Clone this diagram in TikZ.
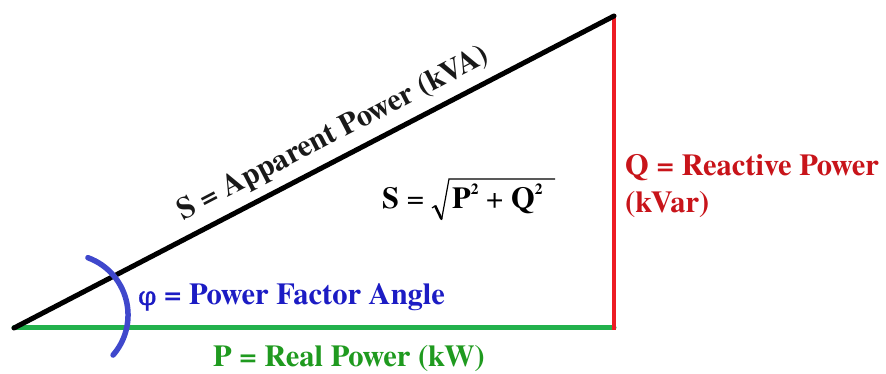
\documentclass[tikz,border=0pt]{standalone}
\usepackage{fontspec}
\newfontfamily\timesb{texgyretermes-bold.otf}
\newfontfamily\timesr{texgyretermes-regular.otf}
\newfontfamily\greekb{DejaVu Serif}[FakeBold=1.5]
\definecolor{lineblack}{HTML}{000000}
\definecolor{linegreen}{HTML}{22B14C}
\definecolor{linered}{HTML}{ED1C24}
\definecolor{arcblue}{HTML}{3F48CC}
\definecolor{txtblue}{HTML}{1C1CC4}
\definecolor{txtgreen}{HTML}{1F9A1F}
\definecolor{txtred}{HTML}{C8141A}
\tikzset{
  lblfont/.style={font=\fontsize{30.5}{34}\selectfont\timesb},
  lbl/.style={lblfont, inner sep=0pt, anchor=base west},
  side/.style={line width=5pt, line cap=round},
}
\newcommand{\supb}[1]{\raisebox{14pt}{\fontsize{15.5}{16}\selectfont #1}}
\begin{document}
\begin{tikzpicture}[x=1pt,y=1pt]
\useasboundingbox (0,0) rectangle (886,374);
\coordinate (A) at (14,46);
\coordinate (B) at (614,46);
\coordinate (C) at (614,358);
\coordinate (Ctop) at (614,360);
\draw[side, linegreen] (A) -- (B);
\draw[side, linered, line width=4pt, line cap=butt] (614,44) -- (Ctop);
\draw[side, lineblack] (A) -- node[pos=0.552, sloped, above=8pt, lblfont, inner sep=0pt, text=black!90] (slabel) {S = Apparent Power (kVA)} (C);
\draw[arcblue, line width=5.5pt, line cap=round] (87.9,116.3) arc[start angle=70, end angle=-41, radius=61];
\node[lbl, text=txtblue] (phi) at (138,69) {{\greekb\fontsize{26}{30}\selectfont φ} = Power Factor Angle};
\node[lbl, text=txtgreen] (p) at (213,7) {P = Real Power (kW)};
\node[lbl, text=txtred] (q1) at (625,198) {Q = Reactive Power};
\node[lbl, text=txtred] (q2) at (625,161) {(kVar)};
% formula
\node[lbl] (fs) at (382,165) {S {\timesr=}};
\node[lbl] (finner) at (452,165) {P\supb{2} {\timesr+} Q\supb{2}};
\draw[line width=1.2pt, line join=miter] (432,166) -- (435,168);
\draw[line width=2.6pt, line cap=butt] (435,168.5) -- (441.5,155);
\draw[line width=1.2pt, line join=miter] (441.5,154) -- (449,195) -- (555,195);
\end{tikzpicture}
\end{document}
